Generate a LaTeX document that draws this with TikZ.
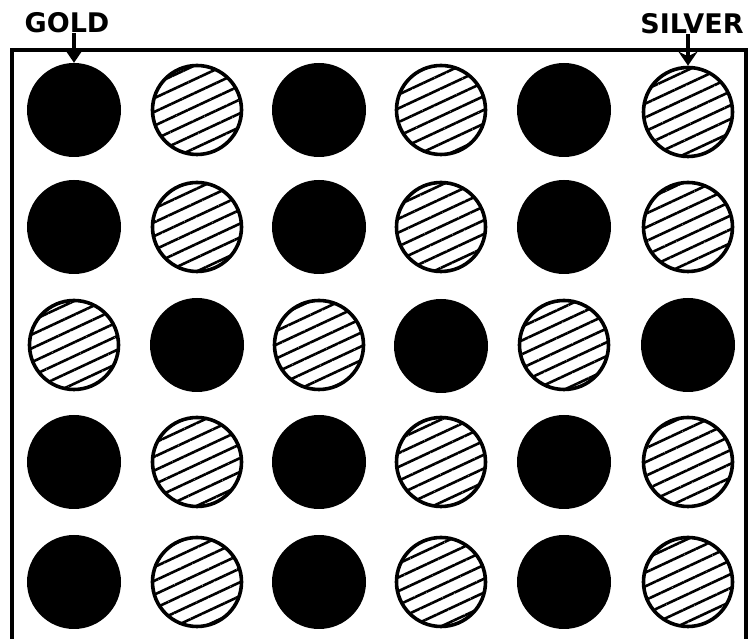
\documentclass[tikz,border=0pt]{standalone}
\usepackage{fontspec}
\setsansfont{DejaVu Sans}
\usetikzlibrary{arrows.meta,patterns.meta}

\begin{document}
\begin{tikzpicture}[
    x=1pt, y=1pt,
    gold/.style={circle, fill=black, minimum size=94pt, inner sep=0pt},
    silver/.style={circle, draw, line width=3.6pt, minimum size=89pt, inner sep=0pt,
        pattern={Lines[angle=25, distance=12.5pt, line width=2.6pt]}},
    tag/.style={font=\sffamily\bfseries\fontsize{27}{27}\selectfont, inner sep=0pt},
    arrow/.style={-{Stealth[length=14pt, width=19pt]}, line width=3.4pt}
]
\useasboundingbox (0,0) rectangle (756,639);
\draw[line width=4.5pt] (12,-10) -- (12,589) -- (746,589) -- (746,-10);

% row 1
\node[gold] (c11) at (74,529) {};
\node[silver] (c12) at (197,529) {};
\node[gold] (c13) at (319,529) {};
\node[silver] (c14) at (441,529) {};
\node[gold] (c15) at (564,529) {};
\node[silver] (c16) at (688,527) {};
% row 2
\node[gold] (c21) at (74,412) {};
\node[silver] (c22) at (197,412) {};
\node[gold] (c23) at (319,412) {};
\node[silver] (c24) at (441,412) {};
\node[gold] (c25) at (564,412) {};
\node[silver] (c26) at (688,412) {};
% row 3
\node[silver] (c31) at (74,294) {};
\node[gold] (c32) at (197,294) {};
\node[silver] (c33) at (319,294) {};
\node[gold] (c34) at (441,293) {};
\node[silver] (c35) at (564,294) {};
\node[gold] (c36) at (688,294) {};
% row 4
\node[gold] (c41) at (74,177) {};
\node[silver] (c42) at (197,177) {};
\node[gold] (c43) at (319,177) {};
\node[silver] (c44) at (441,177) {};
\node[gold] (c45) at (564,177) {};
\node[silver] (c46) at (688,177) {};
% row 5
\node[gold] (c51) at (74,57) {};
\node[silver] (c52) at (197,57) {};
\node[gold] (c53) at (319,57) {};
\node[silver] (c54) at (441,57) {};
\node[gold] (c55) at (564,57) {};
\node[silver] (c56) at (688,57) {};

\node[tag] (goldlbl) at (67,616) {GOLD};
\node[tag] (silverlbl) at (692,615) {SILVER};

\draw[arrow] (goldlbl.south -| c11.north) -- (c11.north);
\draw[arrow] (silverlbl.south -| c16.north) -- (c16.north);
\end{tikzpicture}
\end{document}
